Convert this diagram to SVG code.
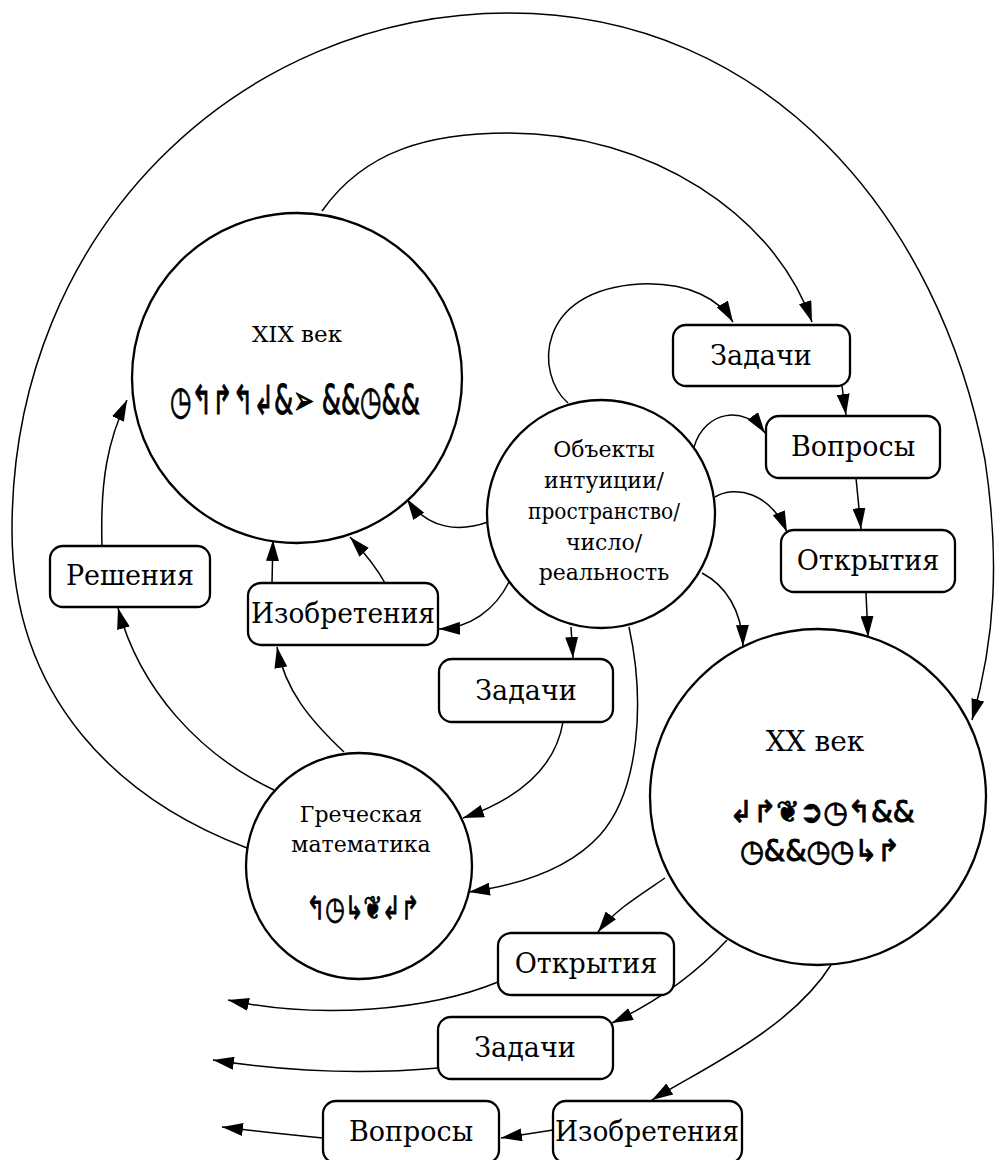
<svg xmlns="http://www.w3.org/2000/svg" width="998" height="1160" viewBox="0 0 998 1160">
<defs>
<marker id="ah" markerUnits="userSpaceOnUse" markerWidth="21" markerHeight="13" refX="21" refY="6.5" orient="auto">
<path d="M0,0 L21,6.5 L0,13 z" fill="#000"/>
</marker>
<style>
.nd{fill:#fff;stroke:#000;stroke-width:2.3}
.bx{fill:#fff;stroke:#000;stroke-width:2.3}
.cn{fill:none;stroke:#000;stroke-width:1.5;marker-end:url(#ah)}
.sym{font-family:"DejaVu Sans",sans-serif;stroke:#000;stroke-width:1}
</style>
</defs>
<rect width="998" height="1160" fill="#fff"/>
<g id="connectors">
<path class="cn" d="M247,848 C120,800 12,700 12,530 C12,230 240,13 509,13 C770,13 940,220 985,460 C1000,560 995,640 972,720"/>
<path class="cn" d="M322,211 C365,150 430,133 509,133 C650,133 775,215 812,322"/>
<path class="cn" d="M568,403 C535,375 535,290 640,284 C690,282 720,300 733,322"/>
<path class="cn" d="M842,386 L846,415"/>
<path class="cn" d="M694,447 C705,410 745,405 765,433"/>
<path class="cn" d="M856,478 L861,529"/>
<path class="cn" d="M715,497 C735,485 770,492 787,532"/>
<path class="cn" d="M866,593 L868,637"/>
<path class="cn" d="M702,573 C725,585 742,610 743,646"/>
<path class="cn" d="M488,522 C460,532 428,530 407,499"/>
<path class="cn" d="M272,583 L273,540"/>
<path class="cn" d="M385,583 C375,565 362,550 350,537"/>
<path class="cn" d="M102,546 C100,480 108,440 127,400"/>
<path class="cn" d="M509,582 C495,610 470,628 439,629"/>
<path class="cn" d="M571,627 L573,658"/>
<path class="cn" d="M563,722 C555,770 515,800 463,818"/>
<path class="cn" d="M629,627 C645,700 640,790 600,835 C570,868 520,885 469,892"/>
<path class="cn" d="M344,752 C310,720 285,690 277,647"/>
<path class="cn" d="M274,790 C200,755 140,690 118,608"/>
<path class="cn" d="M665,878 C640,895 615,910 598,932"/>
<path class="cn" d="M727,940 C690,980 650,1005 612,1023"/>
<path class="cn" d="M831,965 C790,1030 700,1070 652,1100"/>
<path class="cn" d="M553,1130 L501,1138"/>
<path class="cn" d="M498,982 C430,1010 320,1020 228,1000"/>
<path class="cn" d="M438,1068 C360,1075 290,1072 213,1060"/>
<path class="cn" d="M323,1138 C290,1135 255,1131 222,1127"/>
</g>
<g id="n_xix" font-family="DejaVu Serif, serif" text-anchor="middle" fill="#000">
<circle class="nd" cx="297" cy="378" r="165"/>
<text x="297" y="342" font-size="23">XIX век</text>
<text class="sym" font-size="40" x="295" y="414" textLength="250" lengthAdjust="spacingAndGlyphs">◷↰↱↰↲&amp;➢ &amp;&amp;◷&amp;&amp;</text>
</g>
<g id="n_obj" font-family="DejaVu Serif, serif" text-anchor="middle" fill="#000" font-size="22">
<circle class="nd" cx="601" cy="514" r="114"/>
<text x="604" y="457">Объекты</text>
<text x="604" y="488">интуиции/</text>
<text x="604" y="519" textLength="152" lengthAdjust="spacingAndGlyphs">пространство/</text>
<text x="604" y="550">число/</text>
<text x="604" y="580">реальность</text>
</g>
<g id="n_xx" font-family="DejaVu Serif, serif" text-anchor="middle" fill="#000">
<circle class="nd" cx="818" cy="797" r="168"/>
<text font-size="28" x="815" y="751">XX век</text>
<text class="sym" font-size="30" x="822" y="822" textLength="185" lengthAdjust="spacingAndGlyphs">↲↱❦➲◷↰&amp;&amp;</text>
<text class="sym" font-size="30" x="820" y="861" textLength="160" lengthAdjust="spacingAndGlyphs">◷&amp;&amp;◷◷↳↱</text>
</g>
<g id="n_greek" font-family="DejaVu Serif, serif" text-anchor="middle" fill="#000" font-size="22">
<circle class="nd" cx="359" cy="866" r="113"/>
<text x="361" y="822">Греческая</text>
<text x="361" y="852">математика</text>
<text class="sym" font-size="32" x="363" y="919" textLength="113" lengthAdjust="spacingAndGlyphs">↰◷↳❦↲↱</text>
</g>
<g font-family="DejaVu Serif, serif" text-anchor="middle" fill="#000" font-size="27">
<g id="b_zad1"><rect class="bx" x="673" y="325" width="177" height="61" rx="13"/><text x="761" y="365">Задачи</text></g>
<g id="b_vop1"><rect class="bx" x="766" y="416" width="174" height="62" rx="13"/><text x="853" y="456">Вопросы</text></g>
<g id="b_otk1"><rect class="bx" x="781" y="530" width="174" height="62" rx="13"/><text x="868" y="570">Открытия</text></g>
<g id="b_resh"><rect class="bx" x="50" y="546" width="160" height="61" rx="13"/><text x="130" y="585">Решения</text></g>
<g id="b_izo1"><rect class="bx" x="248" y="583" width="190" height="62" rx="13"/><text x="343" y="623" textLength="184" lengthAdjust="spacingAndGlyphs">Изобретения</text></g>
<g id="b_zad2"><rect class="bx" x="439" y="659" width="174" height="63" rx="13"/><text x="526" y="700">Задачи</text></g>
<g id="b_otk2"><rect class="bx" x="498" y="933" width="176" height="62" rx="13"/><text x="586" y="973">Открытия</text></g>
<g id="b_zad3"><rect class="bx" x="438" y="1017" width="175" height="62" rx="13"/><text x="525" y="1057">Задачи</text></g>
<g id="b_vop2"><rect class="bx" x="323" y="1101" width="176" height="62" rx="13"/><text x="411" y="1141">Вопросы</text></g>
<g id="b_izo2"><rect class="bx" x="553" y="1101" width="189" height="62" rx="13"/><text x="647" y="1141" textLength="184" lengthAdjust="spacingAndGlyphs">Изобретения</text></g>
</g>
</svg>
